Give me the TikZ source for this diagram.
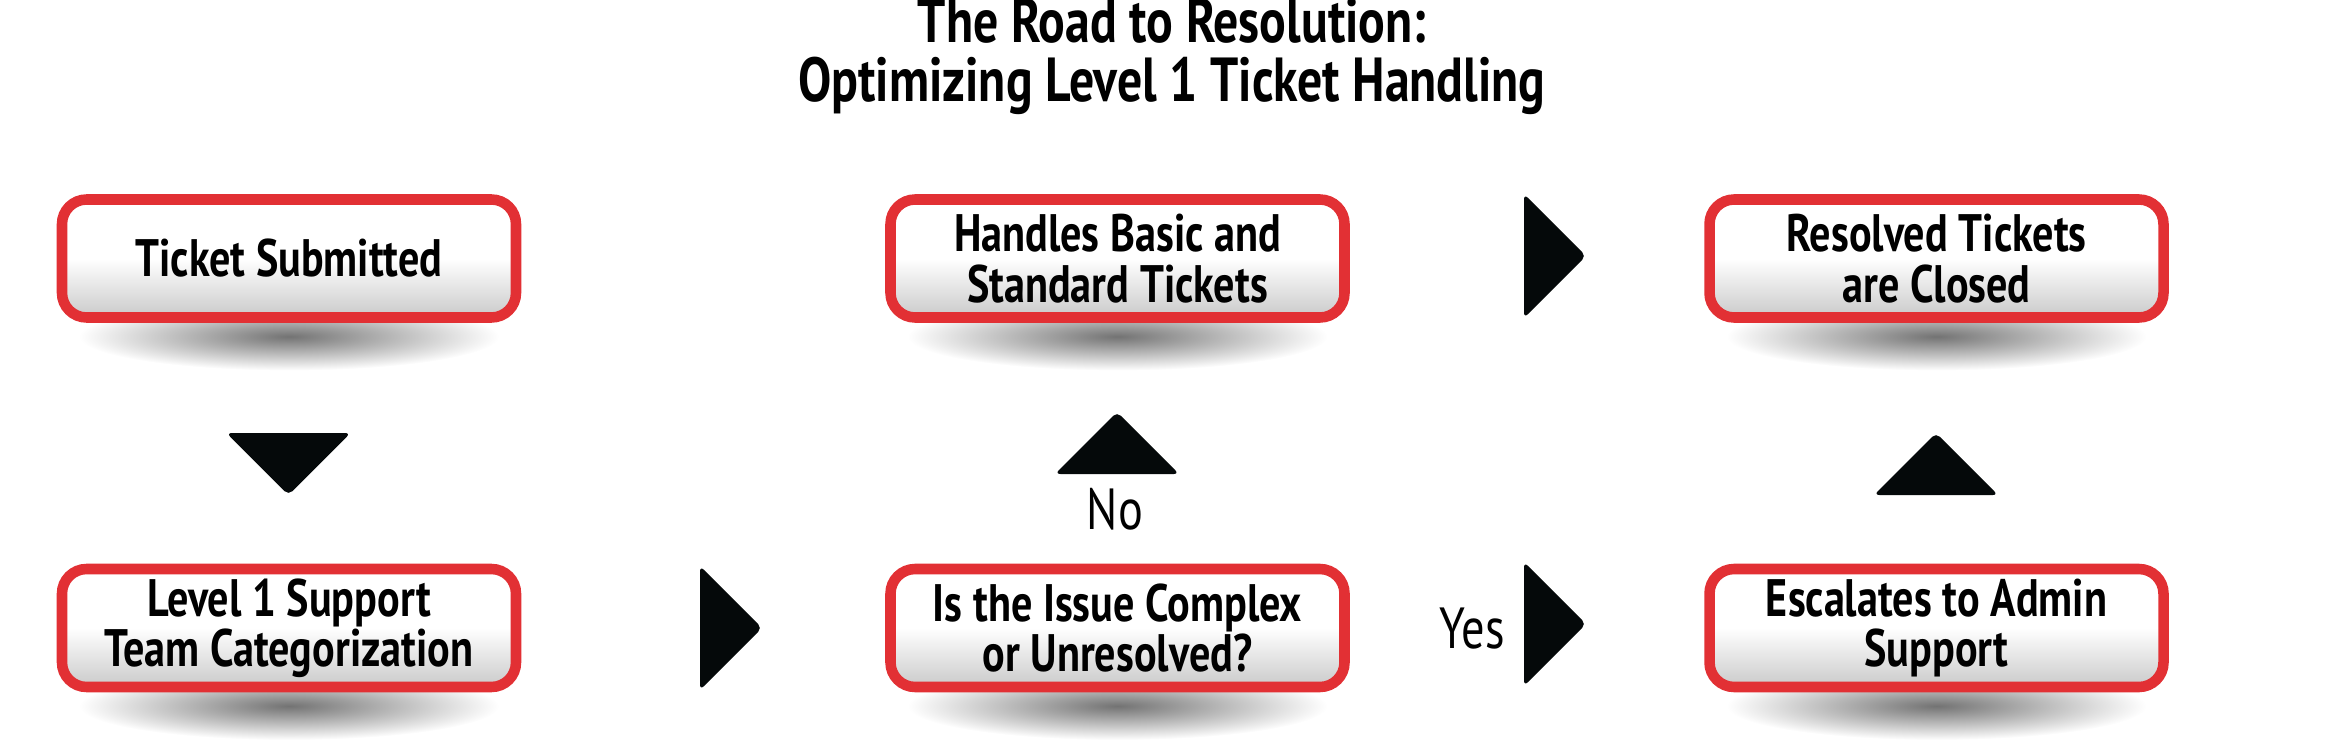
\documentclass[tikz,border=0pt]{standalone}
\usepackage{fontspec}
\setmainfont{PT Sans}[FakeStretch=0.8]
\usetikzlibrary{positioning,calc}

\definecolor{boxred}{RGB}{226,48,52}
\definecolor{tipblack}{RGB}{5,9,10}

\tikzset{
    stepbox/.style={rectangle, rounded corners=7pt, draw=boxred, line width=3pt,
        top color=white, bottom color=gray!42, middle color=white,
        minimum width=4.54cm, minimum height=1.18cm, align=center, inner sep=2pt,
        font=\bfseries\fontsize{15}{14.3}\selectfont},
    boxshadow/.style={inner color=black!55, outer color=white},
    tri/.pic={\fill[tipblack, rounded corners=1.5pt] (-0.31,-0.62) -- (0.31,0) -- (-0.31,0.62) -- cycle;},
    answer/.style={font=\fontsize{16.5}{18}\selectfont}
}

\begin{document}
\begin{tikzpicture}
    \useasboundingbox (0,0) rectangle (23.47,-7.39);
    % box centres
    \coordinate (c1) at (2.89,-2.585);
    \coordinate (c2) at (11.175,-2.585);
    \coordinate (c3) at (19.365,-2.585);
    \coordinate (c4) at (2.89,-6.28);
    \coordinate (c5) at (11.175,-6.28);
    \coordinate (c6) at (19.365,-6.28);
    % shadows under the boxes
    \shade[boxshadow] ($(c1)+(0,-0.78)$) ellipse (2.1 and 0.34);
    \shade[boxshadow] ($(c2)+(0,-0.78)$) ellipse (2.1 and 0.34);
    \shade[boxshadow] ($(c3)+(0,-0.78)$) ellipse (2.1 and 0.34);
    \shade[boxshadow] ($(c4)+(0,-0.78)$) ellipse (2.1 and 0.34);
    \shade[boxshadow] ($(c5)+(0,-0.78)$) ellipse (2.1 and 0.34);
    \shade[boxshadow] ($(c6)+(0,-0.78)$) ellipse (2.1 and 0.34);

    \node[align=center, font=\bfseries\fontsize{17.7}{16.8}\selectfont] (title) at (11.72,-0.56)
        {The Road to Resolution:\\Optimizing Level 1 Ticket Handling};

    \node[stepbox] (submitted) at (c1) {Ticket Submitted};
    \node[stepbox] (basic) at (c2) {Handles Basic and\\Standard Tickets};
    \node[stepbox] (closed) at (c3) {Resolved Tickets\\are Closed};
    \node[stepbox] (categorize) at (c4) {Level 1 Support\\Team Categorization};
    \node[stepbox] (complex) at (c5) {Is the Issue Complex\\or Unresolved?};
    \node[stepbox] (escalate) at (c6) {Escalates to Admin\\Support};

    % arrow heads between the boxes
    \pic[rotate=-90] at (2.885,-4.64) {tri};
    \pic at (7.31,-6.28) {tri};
    \pic[rotate=90] at (11.17,-4.43) {tri};
    \pic at (15.55,-2.56) {tri};
    \pic at (15.55,-6.24) {tri};
    \pic[rotate=90] at (19.36,-4.64) {tri};

    \node[answer] (no) at (11.15,-5.09) {No};
    \node[answer] (yes) at (14.72,-6.29) {Yes};
\end{tikzpicture}
\end{document}
